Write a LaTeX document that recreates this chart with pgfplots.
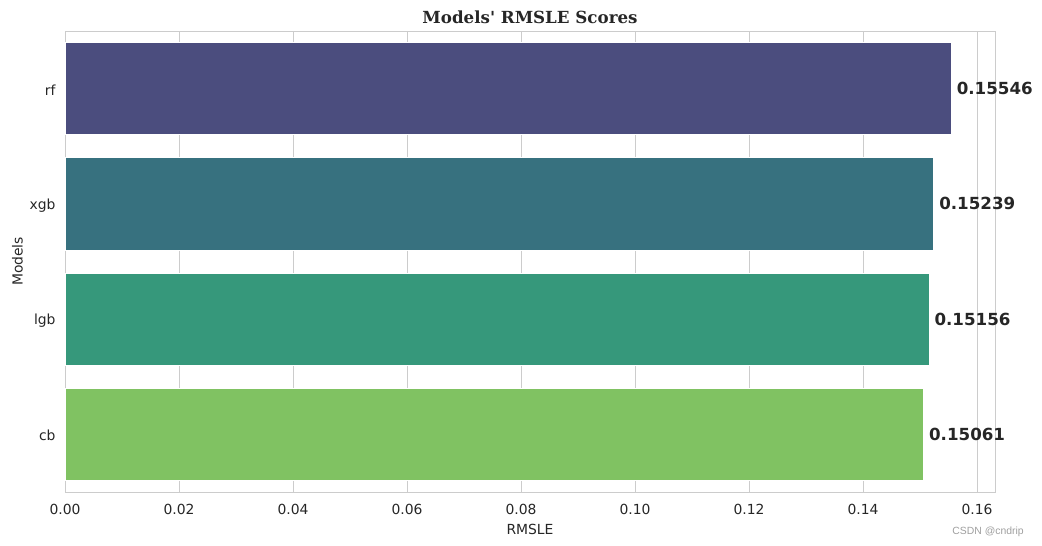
\documentclass[border=0pt]{standalone}
\usepackage{pgfplots}
\pgfplotsset{compat=1.18}
\usepackage{fontspec}
\setmainfont{DejaVu Sans}
\newfontfamily\titlefont{DejaVu Serif}
\newfontfamily\wmfont{Liberation Sans}
\definecolor{txt}{HTML}{262626}
\definecolor{gridc}{HTML}{CCCCCC}
\definecolor{c1}{HTML}{4B4D7E}
\definecolor{c2}{HTML}{37717F}
\definecolor{c3}{HTML}{36987B}
\definecolor{c4}{HTML}{80C262}
\begin{document}
\begin{tikzpicture}[x=1pt,y=1pt]
\useasboundingbox (0,0) rectangle (750.24,393.12);
\begin{axis}[
  at={(46.8pt,38.88pt)}, anchor=south west,
  scale only axis, width=669.6pt, height=331.92pt,
  xbar, bar width=0.8, bar shift=0pt,
  xmin=0, xmax=0.16316,
  ymin=-0.5, ymax=3.5, y dir=reverse,
  ytick={0,1,2,3}, yticklabels={rf,xgb,lgb,cb},
  xtick={0,0.02,0.04,0.06,0.08,0.10,0.12,0.14,0.16},
  xticklabel style={/pgf/number format/fixed, /pgf/number format/fixed zerofill, /pgf/number format/precision=2, yshift=-5pt},
  yticklabel style={yshift=-1pt, xshift=1pt},
  /pgf/number format/assume math mode=true,
  scaled x ticks=false,
  tick style={draw=none},
  ticklabel style={font=\fontsize{10}{12}\selectfont, text=txt},
  xmajorgrids, grid style={gridc, line width=0.7pt},
  axis line style={gridc, line width=0.7pt},
  xlabel={RMSLE}, ylabel={Models},
  label style={font=\fontsize{10}{12}\selectfont, text=txt},
  xlabel style={yshift=0pt},
  ylabel style={yshift=-2pt},
  point meta=explicit symbolic,
  nodes near coords={\pgfplotspointmeta},
  nodes near coords style={font=\fontsize{12}{14}\selectfont\bfseries, text=txt, anchor=west, xshift=0.5pt},
]
\addplot[fill=c1, draw=white, line width=0.5pt] coordinates {(0.15546,0) [0.15546]};
\addplot[fill=c2, draw=white, line width=0.5pt] coordinates {(0.15239,1) [0.15239]};
\addplot[fill=c3, draw=white, line width=0.5pt] coordinates {(0.15156,2) [0.15156]};
\addplot[fill=c4, draw=white, line width=0.5pt] coordinates {(0.15061,3) [0.15061]};
\end{axis}
\node[font=\titlefont\fontsize{12}{14}\selectfont\bfseries, text=txt] at (381.6,380.9) {Models' RMSLE Scores};
\node[font=\wmfont\fontsize{7.5}{9}\selectfont, text=gray!75] at (711.4,10) {CSDN @cndrip};
\end{tikzpicture}
\end{document}
